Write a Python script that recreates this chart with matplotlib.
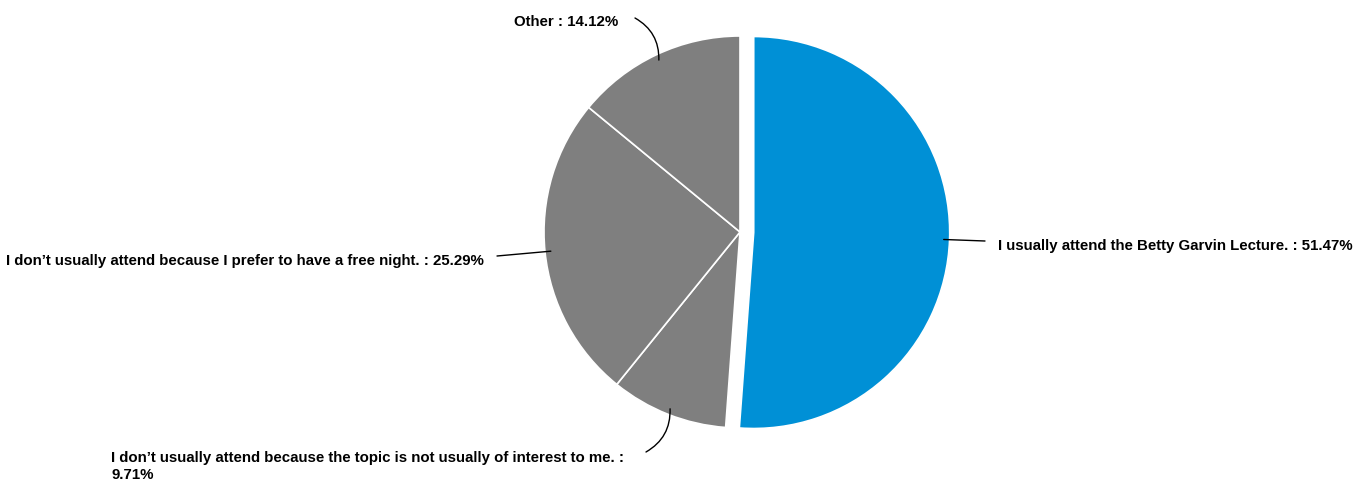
import numpy as np
import matplotlib.pyplot as plt

labels = [
    "I usually attend the Betty Garvin Lecture.",
    "I don’t usually attend because the topic is not usually of interest to me.",
    "I don’t usually attend because I prefer to have a free night.",
    "Other",
]
values = [51.47, 9.71, 25.29, 14.12]
colors = ["#0090d6", "#7f7f7f", "#7f7f7f", "#7f7f7f"]
explode = [0.07, 0, 0, 0]

W, H = 1358, 480
fig = plt.figure(figsize=(W / 100, H / 100), dpi=100)
ax = fig.add_axes([0, 0, 1, 1])

cx, cy, R = 740, H - 232, 196
# pie's explode is in data units, so scale by the radius
wedges, _ = ax.pie(values, colors=colors, explode=[e * R for e in explode],
                   startangle=90, counterclock=False, center=(cx, cy), radius=R,
                   wedgeprops=dict(edgecolor="white", linewidth=1.2),
                   frame=True)
ax.set_xlim(0, W)
ax.set_ylim(0, H)
ax.axis("off")


def img(x, y):
    return x, H - y


# label text position (image px), alignment, leader end, curvature
label_style = [
    dict(xy=(998, 246), ha="left", va="center", end=(985, 241), rad=0.0),
    dict(xy=(111, 451), ha="left", va="top", end=(646, 452), rad=0.3),
    dict(xy=(484, 261), ha="right", va="center", end=(497, 256), rad=0.0),
    dict(xy=(618, 22), ha="right", va="center", end=(635, 18), rad=-0.3),
]

for w, lab, v, st in zip(wedges, labels, values, label_style):
    mid = np.deg2rad((w.theta1 + w.theta2) / 2)
    wx, wy = w.center
    ax_pt = (wx + w.r * 0.97 * np.cos(mid), wy + w.r * 0.97 * np.sin(mid))
    txt = f"{lab} : {v:.2f}%"
    if st["va"] == "top":
        txt = f"{lab} :\n{v:.2f}%"
    ax.annotate("", xy=ax_pt, xytext=img(*st["end"]),
                arrowprops=dict(arrowstyle="-", color="black", lw=1,
                                shrinkA=0, shrinkB=0,
                                connectionstyle=f"arc3,rad={st['rad']}"))
    ax.text(*img(*st["xy"]), txt, ha=st["ha"], va=st["va"],
            fontsize=10.85, fontweight="bold", family="Liberation Sans",
            linespacing=1.25)

fig.savefig("out.png", dpi=100)
